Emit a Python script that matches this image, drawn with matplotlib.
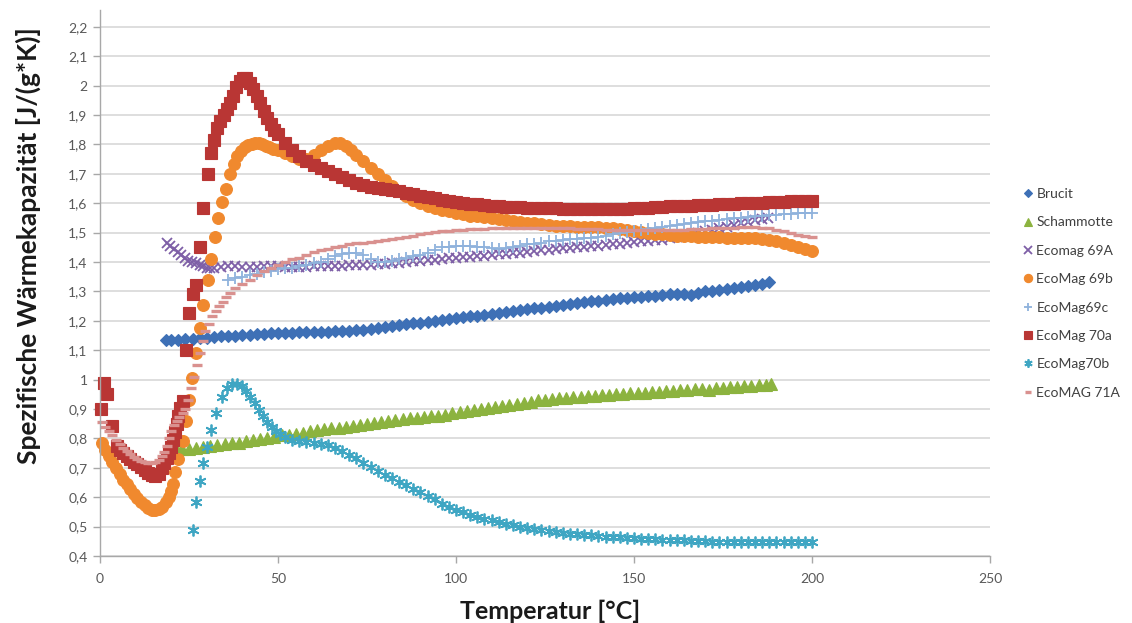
import matplotlib
matplotlib.use('Agg')
import matplotlib.pyplot as plt
from matplotlib.ticker import FuncFormatter, MultipleLocator

plt.rcParams['font.family'] = ['Lato', 'DejaVu Sans']

# ---- data (temperature °C, specific heat J/(g*K)) ----
brucit = [(18.5,1.135),(20,1.135),(22,1.135),(24,1.137),(26,1.138),(28,1.140),(30,1.143),(32,1.145),(34,1.147),(36,1.148),(38,1.150),(40,1.152),(42,1.153),(44,1.155),(46,1.156),(48,1.157),(50,1.158),(52,1.160),(54,1.160),(56,1.161),(58,1.162),(60,1.162),(62,1.163),(64,1.163),(66,1.164),(68,1.165),(70,1.166),(72,1.168),(74,1.170),(76,1.172),(78,1.175),(80,1.178),(82,1.181),(84,1.185),(86,1.188),(88,1.191),(90,1.194),(92,1.197),(94,1.200),(96,1.203),(98,1.206),(100,1.209),(102,1.212),(104,1.215),(106,1.218),(108,1.221),(110,1.224),(112,1.227),(114,1.230),(116,1.233),(118,1.236),(120,1.239),(122,1.242),(124,1.245),(126,1.248),(128,1.251),(130,1.254),(132,1.257),(134,1.260),(136,1.263),(138,1.266),(140,1.269),(142,1.272),(144,1.274),(146,1.276),(148,1.278),(150,1.280),(152,1.282),(154,1.284),(156,1.286),(158,1.288),(160,1.290),(162,1.292),(164,1.290),(166,1.288),(168,1.295),(170,1.300),(172,1.303),(174,1.306),(176,1.309),(178,1.312),(180,1.315),(182,1.318),(184,1.322),(186,1.326),(188,1.331)]

schammotte = [(21.5,0.762),(23,0.763),(25,0.765),(27,0.768),(29,0.771),(31,0.774),(33,0.777),(35,0.780),(37,0.783),(39,0.786),(41,0.790),(43,0.794),(45,0.797),(47,0.800),(49,0.805),(51,0.810),(53,0.813),(55,0.816),(57,0.820),(59,0.824),(61,0.828),(63,0.831),(65,0.834),(67,0.837),(69,0.840),(71,0.843),(73,0.846),(75,0.849),(77,0.852),(79,0.856),(81,0.860),(83,0.863),(85,0.866),(87,0.868),(89,0.870),(91,0.872),(93,0.875),(95,0.877),(97,0.881),(99,0.885),(101,0.889),(103,0.893),(105,0.897),(107,0.901),(109,0.904),(111,0.908),(113,0.911),(115,0.915),(117,0.918),(119,0.922),(121,0.925),(123,0.929),(125,0.932),(127,0.934),(129,0.936),(131,0.938),(133,0.940),(135,0.942),(137,0.944),(139,0.945),(141,0.947),(143,0.948),(145,0.950),(147,0.952),(149,0.953),(151,0.955),(153,0.956),(155,0.958),(157,0.959),(159,0.961),(161,0.962),(163,0.964),(165,0.965),(167,0.967),(169,0.968),(171,0.966),(173,0.970),(175,0.972),(177,0.974),(179,0.975),(181,0.977),(183,0.978),(185,0.980),(187,0.982),(188.5,0.985)]

ecomag_69A = [(18.8,1.465),(19.8,1.455),(20.8,1.445),(21.8,1.435),(22.8,1.425),(23.8,1.415),(24.8,1.405),(25.8,1.400),(27,1.395),(28,1.390),(29,1.385),(30,1.380),(31,1.378),(32,1.380),(34,1.383),(36,1.385),(38,1.385),(40,1.384),(42,1.383),(44,1.383),(46,1.385),(48,1.386),(50,1.385),(52,1.384),(54,1.383),(56,1.382),(58,1.383),(60,1.385),(62,1.386),(64,1.386),(66,1.387),(68,1.388),(70,1.389),(72,1.390),(74,1.390),(76,1.391),(78,1.392),(80,1.393),(82,1.395),(84,1.397),(86,1.400),(88,1.402),(90,1.404),(92,1.406),(94,1.408),(96,1.410),(98,1.412),(100,1.414),(102,1.416),(104,1.418),(106,1.420),(108,1.422),(110,1.424),(112,1.426),(114,1.428),(116,1.430),(118,1.432),(120,1.435),(122,1.437),(124,1.440),(126,1.442),(128,1.445),(130,1.447),(132,1.449),(134,1.451),(136,1.452),(138,1.454),(140,1.455),(142,1.458),(144,1.460),(146,1.462),(148,1.465),(150,1.467),(152,1.470),(154,1.472),(156,1.474),(158,1.476),(160,1.480),(162,1.485),(164,1.490),(166,1.495),(168,1.500),(170,1.505),(172,1.510),(174,1.515),(176,1.520),(178,1.527),(180,1.532),(182,1.537),(184,1.542),(186,1.546),(187.5,1.550)]

ecomag_69b = [(0.5,0.785),(1.5,0.760),(2.5,0.740),(3.5,0.720),(4.5,0.700),(5.5,0.680),(6.5,0.660),(7.5,0.645),(8.5,0.628),(9.5,0.612),(10.5,0.598),(11.5,0.585),(12.5,0.573),(13.5,0.564),(14.5,0.558),(15.5,0.557),(16.5,0.560),(17.5,0.568),(18.5,0.582),(19.3,0.600),(20.0,0.620),(20.5,0.645),(21.1,0.685),(22.0,0.730),(23.2,0.790),(24.2,0.860),(25.1,0.930),(25.9,1.005),(27.0,1.090),(28.0,1.175),(29.0,1.255),(30.2,1.340),(31.3,1.410),(32.3,1.485),(33.2,1.550),(34.2,1.605),(35.4,1.650),(36.5,1.700),(37.6,1.735),(38.6,1.760),(39.6,1.778),(40.6,1.790),(41.6,1.798),(42.6,1.803),(43.6,1.805),(44.6,1.805),(45.6,1.800),(46.6,1.795),(47.6,1.790),(48.6,1.785),(50,1.780),(52,1.770),(54,1.760),(56,1.752),(58,1.750),(60,1.765),(62,1.780),(64,1.795),(66,1.805),(67.5,1.805),(69,1.795),(70.5,1.780),(72,1.765),(74,1.745),(76,1.720),(78,1.700),(80,1.680),(82,1.660),(84,1.640),(86,1.625),(88,1.610),(90,1.600),(92,1.590),(94,1.584),(96,1.578),(98,1.572),(100,1.567),(102,1.562),(104,1.558),(106,1.555),(108,1.552),(110,1.549),(112,1.546),(114,1.543),(116,1.540),(118,1.537),(120,1.534),(122,1.531),(124,1.528),(126,1.526),(128,1.524),(130,1.522),(132,1.521),(134,1.520),(136,1.520),(138,1.520),(140,1.519),(142,1.517),(144,1.514),(146,1.511),(148,1.508),(150,1.505),(152,1.502),(154,1.499),(156,1.496),(158,1.494),(160,1.492),(162,1.490),(164,1.488),(166,1.487),(168,1.486),(170,1.485),(172,1.484),(174,1.484),(176,1.483),(178,1.483),(180,1.482),(182,1.481),(184,1.480),(186,1.478),(188,1.475),(190,1.470),(192,1.465),(194,1.458),(196,1.450),(198,1.443),(200,1.437)]

ecomag_69c = [(36,1.340),(38,1.345),(40,1.350),(42,1.355),(44,1.360),(46,1.365),(48,1.370),(50,1.375),(52,1.378),(54,1.380),(56,1.385),(58,1.390),(60,1.395),(62,1.400),(64,1.410),(66,1.420),(68,1.428),(70,1.432),(72,1.430),(74,1.425),(76,1.410),(78,1.400),(80,1.400),(82,1.405),(84,1.410),(86,1.415),(88,1.420),(90,1.425),(92,1.430),(94,1.440),(96,1.450),(98,1.452),(100,1.455),(102,1.455),(104,1.455),(106,1.452),(108,1.450),(110,1.447),(112,1.445),(114,1.447),(116,1.450),(118,1.455),(120,1.460),(122,1.462),(124,1.465),(126,1.470),(128,1.472),(130,1.475),(132,1.477),(134,1.478),(136,1.480),(138,1.482),(140,1.485),(142,1.490),(144,1.495),(146,1.500),(148,1.503),(150,1.506),(152,1.510),(154,1.513),(156,1.516),(158,1.520),(160,1.523),(162,1.526),(164,1.529),(166,1.532),(168,1.535),(170,1.538),(172,1.540),(174,1.543),(176,1.545),(178,1.548),(180,1.550),(182,1.552),(184,1.555),(186,1.557),(188,1.560),(190,1.561),(192,1.562),(194,1.564),(196,1.565),(198,1.566),(200,1.567)]

ecomag_70a = [(0.3,0.900),(1.2,0.990),(2.0,0.950),(3.3,0.842),(4.7,0.775),(5.6,0.762),(6.5,0.750),(7.5,0.740),(8.5,0.730),(9.5,0.720),(10.5,0.712),(11.5,0.704),(12.5,0.694),(13.5,0.684),(14.5,0.676),(15.5,0.672),(16.5,0.680),(17.3,0.700),(18.0,0.716),(18.7,0.732),(19.3,0.752),(19.9,0.772),(20.5,0.796),(21.0,0.822),(21.5,0.848),(22.0,0.875),(22.6,0.905),(23.3,0.927),(24.2,1.100),(25.0,1.228),(26.1,1.290),(27.1,1.322),(28.1,1.450),(29.0,1.585),(30.3,1.700),(31.3,1.770),(31.9,1.815),(32.8,1.855),(33.8,1.880),(34.7,1.900),(35.6,1.920),(36.5,1.940),(37.4,1.965),(38.3,1.995),(39.2,2.015),(40.1,2.025),(41.0,2.025),(42.0,2.010),(43.0,1.990),(44.0,1.965),(45.0,1.940),(46.0,1.915),(47.0,1.890),(48.0,1.870),(49.0,1.850),(50.0,1.835),(52,1.805),(54,1.780),(56,1.760),(58,1.745),(60,1.730),(62,1.720),(64,1.710),(66,1.700),(68,1.690),(70,1.680),(72,1.670),(74,1.662),(76,1.656),(78,1.651),(80,1.647),(82,1.644),(84,1.641),(86,1.636),(88,1.631),(90,1.626),(92,1.621),(94,1.616),(96,1.611),(98,1.607),(100,1.604),(102,1.601),(104,1.598),(106,1.596),(108,1.594),(110,1.592),(112,1.590),(114,1.588),(116,1.587),(118,1.586),(120,1.585),(122,1.584),(124,1.583),(126,1.582),(128,1.582),(130,1.581),(132,1.580),(134,1.580),(136,1.580),(138,1.579),(140,1.579),(142,1.579),(144,1.580),(146,1.580),(148,1.581),(150,1.582),(152,1.584),(154,1.585),(156,1.587),(158,1.588),(160,1.589),(162,1.590),(164,1.591),(166,1.592),(168,1.593),(170,1.594),(172,1.595),(174,1.596),(176,1.597),(178,1.598),(180,1.599),(182,1.600),(184,1.601),(186,1.602),(188,1.603),(190,1.604),(192,1.605),(194,1.606),(196,1.606),(198,1.607),(200,1.607)]

ecomag_70b = [(26.0,0.490),(27.1,0.585),(28.0,0.655),(29.0,0.715),(30.0,0.770),(31.3,0.830),(32.7,0.885),(34.3,0.940),(35.8,0.970),(37.2,0.985),(38.6,0.985),(39.8,0.978),(41.0,0.962),(42.2,0.942),(43.4,0.920),(44.6,0.897),(45.8,0.875),(47.0,0.855),(48.2,0.838),(49.4,0.825),(50.6,0.815),(52,0.805),(54,0.795),(56,0.790),(58,0.787),(60,0.785),(62,0.782),(64,0.776),(66,0.768),(68,0.757),(70,0.745),(72,0.732),(74,0.718),(76,0.704),(78,0.690),(80,0.677),(82,0.664),(84,0.652),(86,0.640),(88,0.628),(90,0.616),(92,0.604),(94,0.593),(96,0.578),(98,0.568),(100,0.558),(102,0.549),(104,0.541),(106,0.534),(108,0.527),(110,0.521),(112,0.515),(114,0.510),(116,0.505),(118,0.500),(120,0.496),(122,0.492),(124,0.488),(126,0.485),(128,0.482),(130,0.479),(132,0.476),(134,0.474),(136,0.472),(138,0.470),(140,0.468),(142,0.466),(144,0.464),(146,0.463),(148,0.462),(150,0.461),(152,0.459),(154,0.458),(156,0.457),(158,0.456),(160,0.455),(162,0.454),(164,0.453),(166,0.452),(168,0.451),(170,0.450),(172,0.449),(174,0.449),(176,0.448),(178,0.448),(180,0.447),(182,0.447),(184,0.447),(186,0.446),(188,0.446),(190,0.446),(192,0.446),(194,0.446),(196,0.446),(198,0.446),(200,0.447)]

ecomag_71A = [(0.5,0.855),(1.5,0.840),(2.5,0.825),(3.5,0.810),(4.5,0.795),(5.5,0.780),(6.5,0.768),(7.5,0.757),(8.5,0.747),(9.5,0.738),(10.5,0.730),(11.5,0.724),(12.5,0.720),(13.5,0.717),(14.5,0.716),(15.5,0.720),(16.5,0.728),(17.3,0.740),(18.0,0.755),(18.7,0.775),(19.3,0.800),(20.0,0.825),(20.7,0.845),(21.5,0.860),(22.3,0.872),(23.2,0.885),(24.0,0.900),(24.8,0.930),(25.5,0.970),(26.3,1.010),(27.2,1.050),(28.0,1.090),(28.8,1.130),(29.6,1.165),(30.5,1.190),(31.5,1.215),(32.5,1.235),(33.5,1.250),(34.5,1.265),(35.5,1.280),(36.5,1.295),(38,1.310),(40,1.325),(42,1.340),(44,1.355),(46,1.370),(48,1.380),(50,1.390),(52,1.400),(54,1.410),(56,1.415),(58,1.425),(60,1.435),(62,1.440),(64,1.445),(66,1.450),(68,1.455),(70,1.460),(72,1.463),(74,1.466),(76,1.469),(78,1.472),(80,1.475),(82,1.477),(84,1.480),(86,1.485),(88,1.490),(90,1.494),(92,1.498),(94,1.501),(96,1.504),(98,1.506),(100,1.508),(102,1.510),(104,1.511),(106,1.512),(108,1.513),(110,1.514),(112,1.515),(114,1.516),(116,1.517),(118,1.517),(120,1.517),(122,1.517),(124,1.517),(126,1.516),(128,1.515),(130,1.515),(132,1.514),(134,1.513),(136,1.512),(138,1.512),(140,1.511),(142,1.510),(144,1.510),(146,1.510),(148,1.510),(150,1.510),(152,1.510),(154,1.510),(156,1.510),(158,1.510),(160,1.510),(162,1.510),(164,1.510),(166,1.511),(168,1.512),(170,1.513),(172,1.514),(174,1.515),(176,1.516),(178,1.517),(180,1.518),(182,1.518),(184,1.518),(186,1.517),(188,1.515),(190,1.510),(192,1.505),(194,1.498),(196,1.492),(198,1.488),(200,1.486)]

labels = ['Brucit', 'Schammotte', 'Ecomag 69A', 'EcoMag 69b', 'EcoMag69c', 'EcoMag 70a', 'EcoMag70b', 'EcoMAG 71A']
datasets = [brucit, schammotte, ecomag_69A, ecomag_69b, ecomag_69c, ecomag_70a, ecomag_70b, ecomag_71A]

styles = [
    dict(marker='D', color='#3E70B6', ms=6.4, mew=0.8),
    dict(marker='^', color='#8CB33F', ms=8.5, mew=0.8),
    dict(marker='x', color='#7E5FA7', ms=7.5, mew=1.3),
    dict(marker='o', color='#F0892E', ms=8.5, mew=0.8),
    dict(marker='+', color='#8FB2DC', ms=8.0, mew=1.3),
    dict(marker='s', color='#B93634', ms=8.0, mew=0.8),
    dict(marker=(6, 2, 0), color='#3FA6C3', ms=8.5, mew=1.3),
    dict(marker='_', color='#D9918F', ms=7.0, mew=2.4),
]

fig = plt.figure(figsize=(11.32, 6.23), dpi=100)
ax = fig.add_axes([100/1132, 1 - 556/623, 890/1132, 546/623])

for lab, data, st in zip(labels, datasets, styles):
    T, cp = zip(*data)
    ax.plot(T, cp, linestyle='none', label=lab, marker=st['marker'], ms=st['ms'],
            mew=st['mew'], color=st['color'], mec=st['color'], mfc=st['color'], clip_on=False)

ax.set_xlim(0, 250)
ax.set_ylim(0.4, 0.4 + 546/294)
ax.xaxis.set_major_locator(MultipleLocator(50))
ax.yaxis.set_major_locator(MultipleLocator(0.1))
ax.yaxis.set_major_formatter(FuncFormatter(lambda v, p: ('%g' % round(v, 1)).replace('.', ',')))
ax.xaxis.set_major_formatter(FuncFormatter(lambda v, p: '%g' % v))
ax.yaxis.grid(True, color='#D4D4D4', lw=1.1)
ax.set_axisbelow(True)
for s in ['top', 'right']:
    ax.spines[s].set_visible(False)
for s in ['left', 'bottom']:
    ax.spines[s].set_color('#A8A8A8')
    ax.spines[s].set_linewidth(1.0)
ax.tick_params(axis='both', direction='out', length=5, width=1, color='#A8A8A8',
               labelcolor='#595959', labelsize=10)
ax.tick_params(axis='x', pad=7)
ax.tick_params(axis='y', pad=4)

fig.text(28/1132, 1 - 246/623, 'Spezifische Wärmekapazität [J/(g*K)]', rotation=90,
         ha='center', va='center', fontsize=19, fontweight='bold', color='#1a1a1a')
fig.text(550/1132, 1 - 619/623, 'Temperatur [°C]', ha='center', va='baseline',
         fontsize=18, fontweight='bold', color='#1a1a1a')

fig.legend(loc='upper left', bbox_to_anchor=(1024/1132, 1 - 188/623), frameon=False,
           fontsize=10, labelspacing=1.18, handlelength=0.6, handletextpad=0.3,
           markerscale=0.7, borderaxespad=0, borderpad=0, labelcolor='#404040')

fig.savefig('out.png', dpi=100)
